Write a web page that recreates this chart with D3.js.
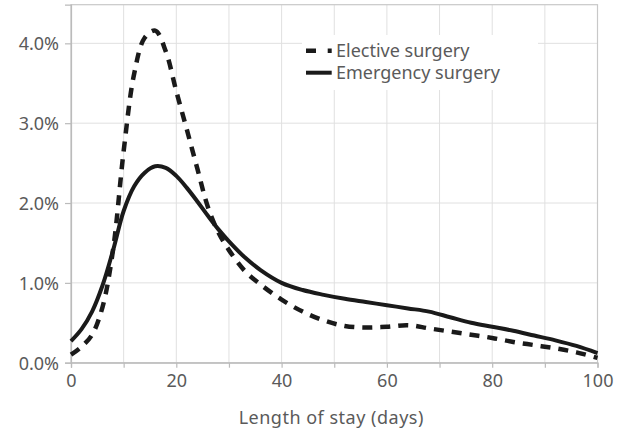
<!DOCTYPE html>
<html>
<head>
<meta charset="utf-8">
<script src="https://cdn.jsdelivr.net/npm/d3@7"></script>
<style>
html,body{margin:0;padding:0;background:#fff;}
svg{display:block;}
text{font-family:"Noto Sans",sans-serif;}
</style>
</head>
<body>
<svg id="chart" width="618" height="431"></svg>
<script>
const days = [0,2,4,6,8,10,12,14,16,18,20,22,24,26,28,30,33,36,40,44,48,52,56,60,64,68,72,76,80,84,88,92,96,100];
const elective = [0.10,0.20,0.35,0.70,1.42,2.65,3.62,4.07,4.16,3.90,3.40,2.92,2.43,1.95,1.63,1.41,1.15,0.98,0.79,0.64,0.53,0.46,0.44,0.45,0.47,0.43,0.39,0.35,0.31,0.26,0.22,0.18,0.13,0.06];
const emergency = [0.27,0.42,0.64,0.97,1.41,1.90,2.21,2.38,2.46,2.44,2.34,2.19,2.02,1.84,1.67,1.52,1.32,1.16,1.00,0.91,0.85,0.80,0.76,0.72,0.68,0.64,0.57,0.50,0.45,0.40,0.34,0.28,0.21,0.12];
const seriesNames = ["Elective surgery","Emergency surgery"];
const xTicks = [0,20,40,60,80,100];
const xMinor = [0,10,20,30,40,50,60,70,80,90,100];
const yTicks = [0,1,2,3,4];
const xTitle = "Length of stay (days)";

const svg = d3.select("#chart");
const m = {left:71, right:20.5, top:4.7, bottom:68.3};
const W = 618, H = 431;
const x = d3.scaleLinear().domain([0,100]).range([m.left, W-m.right]);
const y = d3.scaleLinear().domain([0,4.484]).range([H-m.bottom, m.top]);

// grid
const g = svg.append("g");
g.selectAll(".vg").data(xMinor).join("line")
  .attr("x1",d=>x(d)).attr("x2",d=>x(d)).attr("y1",y.range()[0]).attr("y2",y.range()[1])
  .attr("stroke","#e0e0e0").attr("stroke-width",1);
g.selectAll(".hg").data(yTicks).join("line")
  .attr("x1",x.range()[0]).attr("x2",x.range()[1]).attr("y1",d=>y(d)).attr("y2",d=>y(d))
  .attr("stroke","#e0e0e0").attr("stroke-width",1);
// frame
svg.append("rect").attr("x",x.range()[0]).attr("y",y.range()[1])
  .attr("width",x.range()[1]-x.range()[0]).attr("height",y.range()[0]-y.range()[1])
  .attr("fill","none").attr("stroke","#c8c8c8").attr("stroke-width",1.2);

// axes
const xAxis = d3.axisBottom(x).tickValues(xMinor).tickSize(5).tickPadding(6)
  .tickFormat(d => xTicks.includes(d) ? d : "");
const gx = svg.append("g").attr("transform",`translate(0,${y.range()[0]})`).call(xAxis);
const yAxis = d3.axisLeft(y).tickValues(yTicks).tickSize(6).tickPadding(6)
  .tickFormat(d => d.toFixed(1)+"%");
const gy = svg.append("g").attr("transform",`translate(${x.range()[0]},0)`).call(yAxis);
[gx,gy].forEach(a=>{
  a.select(".domain").attr("stroke","#bbb").attr("stroke-width",1.2);
  a.selectAll(".tick line").attr("stroke","#bbb").attr("stroke-width",1.2);
  a.selectAll(".tick text").attr("fill","#5a5a5a").style("font-size","18px").style("font-family","'Noto Sans',sans-serif");
});
gy.selectAll(".tick text").attr("dy","0.35em");
gx.selectAll(".tick text").attr("dy","0.72em");

svg.append("text").attr("x",(x.range()[0]+x.range()[1])/2 - 3).attr("y",424)
  .attr("text-anchor","middle").attr("fill","#5a5a5a").style("font-size","18px")
  .style("letter-spacing","0.5px").text(xTitle);

// lines
const line = d3.line().x((d,i)=>x(days[i])).y(d=>y(d)).curve(d3.curveCatmullRom.alpha(0.5));
svg.append("path").datum(emergency).attr("d",line).attr("fill","none")
  .attr("stroke","#1a1a1a").attr("stroke-width",4);
svg.append("path").datum(elective).attr("d",line).attr("fill","none")
  .attr("stroke","#1a1a1a").attr("stroke-width",4.5).attr("stroke-dasharray","10,8");

// legend
const lg = svg.append("g");
lg.append("rect").attr("x",302).attr("y",35).attr("width",236).attr("height",55).attr("fill","#fff");
const items = [{name:seriesNames[0],dash:"10,11.7",w:4.5},{name:seriesNames[1],dash:null,w:4}];
items.forEach((it,i)=>{
  const yy = 50.7 + i*22;
  const ln = lg.append("line").attr("x1",306).attr("x2",331.7).attr("y1",yy).attr("y2",yy)
    .attr("stroke","#1a1a1a").attr("stroke-width",it.w);
  if(it.dash) ln.attr("stroke-dasharray",it.dash);
  lg.append("text").attr("x",336).attr("y",yy+6).attr("fill","#5a5a5a").style("font-size","18px").text(it.name);
});
</script>
</body>
</html>
